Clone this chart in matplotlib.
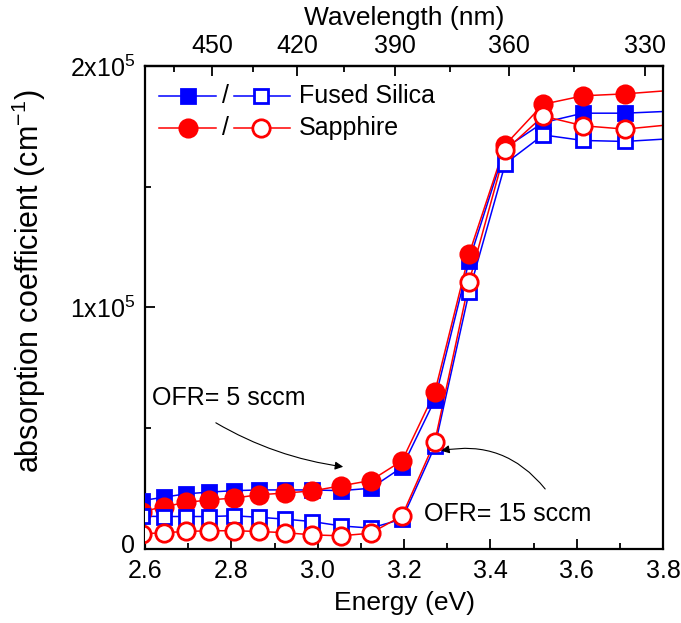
import numpy as np
import matplotlib
matplotlib.use('Agg')
import matplotlib.pyplot as plt
import matplotlib.transforms as mtransforms
from matplotlib.ticker import FixedLocator, FixedFormatter, MultipleLocator

plt.rcParams['font.family'] = ['Liberation Sans', 'DejaVu Sans']
plt.rcParams['mathtext.default'] = 'regular'

# wavelengths of the marked points (nm); last one only extends the lines past 3.8 eV
wavelength = [478, 469, 460, 451, 442, 433, 424, 415, 406, 397, 388, 379, 370,
              361, 352, 343, 334, 325]
# absorption coefficient, 1e3 cm^-1
fused_5 = [20.0, 21.4, 22.8, 23.5, 24.1, 24.4, 24.4, 24.4, 24.1, 25.1, 33.8, 61.7,
           119.4, 166.0, 176.5, 180.4, 180.4, 181.2]
fused_15 = [13.5, 13.4, 13.4, 13.4, 13.7, 13.1, 12.3, 11.3, 9.5, 8.6, 12.3, 42.4,
            106.5, 159.5, 171.4, 169.1, 168.7, 169.8]
sapph_5 = [15.4, 17.5, 19.2, 20.3, 21.0, 22.4, 23.1, 24.0, 26.1, 28.3, 36.5, 64.9,
           122.2, 167.3, 184.1, 187.6, 188.4, 189.8]
sapph_15 = [6.2, 6.7, 7.2, 7.5, 7.5, 7.2, 6.7, 5.8, 5.4, 6.5, 13.7, 44.4,
            110.7, 165.0, 179.2, 175.2, 173.8, 175.6]

top_ticks = [450, 420, 390, 360, 330]
top_minor = [465, 435, 405, 375, 345]

HC = 1239.84
energy = HC / np.array(wavelength)
blue = '#0000ff'
red = '#ff0000'

fig = plt.figure(figsize=(6.81, 6.23), dpi=100)
ax = fig.add_axes([0.213, 0.119, 0.7606, 0.7753])

series = [
    (fused_5, blue, 's', blue, 10.5),
    (sapph_5, red, 'o', red, 12.5),
    (fused_15, blue, 's', 'white', 10.5),
    (sapph_15, red, 'o', 'white', 12.5),
]
for vals, col, mk, face, ms in series:
    y = np.array(vals) * 1e3
    ax.plot(energy, y, color=col, lw=1.1, zorder=2)
    ax.plot(energy[:-1], y[:-1], ls='none', marker=mk, ms=ms, mfc=face,
            mec=col, mew=2.0, zorder=3)

ax.set_xlim(2.6, 3.8)
ax.set_ylim(0, 2e5)
ax.xaxis.set_major_locator(MultipleLocator(0.2))
ax.xaxis.set_minor_locator(MultipleLocator(0.1))
ax.xaxis.set_major_formatter(plt.FuncFormatter(lambda v, p: f'{v:.1f}'))
ax.yaxis.set_major_locator(FixedLocator([0, 1e5, 2e5]))
ax.yaxis.set_major_formatter(FixedFormatter(['0', r'$1x10^{5}$', r'$2x10^{5}$']))
ax.yaxis.set_minor_locator(FixedLocator([0.5e5, 1.5e5]))

ax.tick_params(which='both', direction='in', width=1.3, labelsize=18)
ax.tick_params(which='major', length=7, pad=7)
ax.tick_params(which='minor', length=4)
ax.tick_params(axis='x', top=False)
for s in ax.spines.values():
    s.set_linewidth(1.6)

# the "0" sits a little above its tick, as in the original
zero_lab = ax.yaxis.get_major_ticks()[0].label1
zero_lab.set_transform(zero_lab.get_transform() +
                       mtransforms.ScaledTranslation(0, 4 / 72, fig.dpi_scale_trans))

ax.set_xlabel('Energy (eV)', fontsize=19, labelpad=6)
ax.set_ylabel(r'absorption coefficient (cm$^{-1}$)', fontsize=22)
ax.yaxis.set_label_coords(-0.187, 0.553)


def e2l(e):
    e = np.asarray(e, dtype=float)
    return HC / np.where(np.abs(e) < 1e-6, 1e-6, e)


top = ax.secondary_xaxis('top', functions=(e2l, e2l))
top.xaxis.set_major_locator(FixedLocator(top_ticks))
top.xaxis.set_minor_locator(FixedLocator(top_minor))
top.xaxis.set_major_formatter(FixedFormatter([str(t) for t in top_ticks]))
top.tick_params(which='both', direction='in', width=1.3, labelsize=18)
top.tick_params(which='major', length=7, pad=6)
top.tick_params(which='minor', length=4)
top.spines['top'].set_linewidth(1.6)
top.set_xlabel('Wavelength (nm)', fontsize=19, labelpad=6)

# hand-made legend
rows = [(0.938, blue, 's', 10.5, 'Fused Silica'), (0.872, red, 'o', 12.5, 'Sapphire')]
for ry, col, mk, ms, lab in rows:
    ax.plot([0.026, 0.137], [ry, ry], color=col, lw=1.1, transform=ax.transAxes)
    ax.plot([0.082], [ry], marker=mk, ms=ms, color=col, mec=col, mew=2.0,
            transform=ax.transAxes)
    ax.text(0.156, ry, '/', fontsize=18, ha='center', va='center',
            transform=ax.transAxes)
    ax.plot([0.171, 0.280], [ry, ry], color=col, lw=1.1, transform=ax.transAxes)
    ax.plot([0.223], [ry], marker=mk, ms=ms, mfc='white', mec=col, mew=2.0,
            transform=ax.transAxes)
    ax.text(0.297, ry, lab, fontsize=18, ha='left', va='center',
            transform=ax.transAxes)

ax.text(2.616, 62.5e3, 'OFR= 5 sccm', fontsize=18, ha='left', va='center')
ax.annotate('', xy=(3.059, 34.0e3), xytext=(2.764, 52.2e3),
            arrowprops=dict(arrowstyle='-|>', color='black', lw=0.8,
                            mutation_scale=12, shrinkA=0, shrinkB=0,
                            connectionstyle='arc3,rad=0.1'))
ax.text(3.246, 14.5e3, 'OFR= 15 sccm', fontsize=18, ha='left', va='center')
ax.annotate('', xy=(3.286, 40.6e3), xytext=(3.527, 24.8e3),
            arrowprops=dict(arrowstyle='-|>', color='black', lw=0.8,
                            mutation_scale=12, shrinkA=0, shrinkB=0,
                            connectionstyle='arc3,rad=0.3'))

fig.savefig('out.png', dpi=100)
